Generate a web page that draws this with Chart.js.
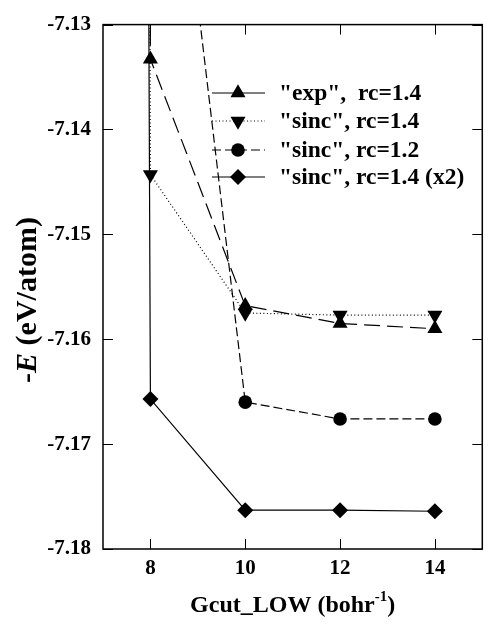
<!DOCTYPE html>
<html>
<head>
<meta charset="utf-8">
<script src="https://cdn.jsdelivr.net/npm/chart.js@4/dist/chart.umd.min.js"></script>
<style>
  html, body { margin: 0; padding: 0; background: #fff; }
  #wrap { width: 491px; height: 630px; }
</style>
</head>
<body>
<div id="wrap"><canvas id="energyChart" width="491" height="630"></canvas></div>
<script>
// ── Data ──────────────────────────────────────────────────────
const xTicks = [8, 10, 12, 14];
const yTicks = [-7.18, -7.17, -7.16, -7.15, -7.14, -7.13];

const gcutLow    = [6, 8, 10, 12, 14];            // first point sits far above the frame
const expRc14    = [-4.0, -7.1333, -7.1568, -7.1585, -7.1590];
const sincRc14   = [-4.5, -7.1443, -7.1575, -7.1577, -7.1577];
const sincRc12   = [-6.5, -7.0900, -7.1660, -7.1676, -7.1676];
const sincRc14x2 = [-5.0, -7.1657, -7.1763, -7.1763, -7.1764];

const seriesLabels = ['"exp",  rc=1.4', '"sinc", rc=1.4', '"sinc", rc=1.2', '"sinc", rc=1.4 (x2)'];

const SERIF = '"Liberation Serif", "Times New Roman", serif';

function toPoints(ys) {
    return gcutLow.map((x, i) => ({ x, y: ys[i] }));
}

// hide the marker of the off-frame first point
function radii(r) {
    return gcutLow.map((_, i) => (i === 0 ? 0 : r));
}

// ── Marker helper (legend) ────────────────────────────────────
function drawMarker(ctx, style, x, y, r, rot) {
    ctx.save();
    ctx.fillStyle = '#000';
    ctx.translate(x, y);
    if (rot) ctx.rotate(rot * Math.PI / 180);
    ctx.beginPath();
    if (style === 'circle') {
        ctx.arc(0, 0, r, 0, Math.PI * 2);
    } else if (style === 'triangle') {
        for (let k = 0; k < 3; k++) {
            const a = k * 2 * Math.PI / 3;
            const px = Math.sin(a) * r, py = -Math.cos(a) * r;
            if (k === 0) ctx.moveTo(px, py); else ctx.lineTo(px, py);
        }
    } else if (style === 'rectRot') {
        ctx.moveTo(-r, 0); ctx.lineTo(0, -r); ctx.lineTo(r, 0); ctx.lineTo(0, r);
    }
    ctx.closePath();
    ctx.fill();
    ctx.restore();
}

// ── Frame, inner ticks, axis titles and key ───────────────────
const framePlugin = {
    id: 'frame',
    afterDatasetsDraw(chart) {
        const { ctx, chartArea: a, scales } = chart;
        ctx.save();
        ctx.strokeStyle = '#000';
        ctx.lineWidth = 1.5;
        ctx.setLineDash([]);
        ctx.strokeRect(a.left, a.top, a.right - a.left, a.bottom - a.top);

        ctx.lineWidth = 1;
        const tl = 10;
        ctx.beginPath();
        xTicks.forEach(v => {
            const px = Math.round(scales.x.getPixelForValue(v)) + 0.5;
            ctx.moveTo(px, a.bottom); ctx.lineTo(px, a.bottom - tl);
            ctx.moveTo(px, a.top);    ctx.lineTo(px, a.top + tl);
        });
        yTicks.forEach(v => {
            const py = Math.round(scales.y.getPixelForValue(v)) + 0.5;
            ctx.moveTo(a.left, py);  ctx.lineTo(a.left + tl, py);
            ctx.moveTo(a.right, py); ctx.lineTo(a.right - tl, py);
        });
        ctx.stroke();

        // key
        const rowY = [93, 121, 150, 177];
        chart.data.datasets.forEach((ds, i) => {
            const y = rowY[i];
            ctx.beginPath();
            ctx.lineWidth = 1.2;
            ctx.setLineDash(ds.legendDash);
            ctx.moveTo(212, y); ctx.lineTo(265, y);
            ctx.stroke();
            ctx.setLineDash([]);
            drawMarker(ctx, ds.pointStyle, 238, y, ds.legendRadius, ds.rotation || 0);
            ctx.fillStyle = '#000';
            ctx.font = 'bold 23.5px ' + SERIF;
            ctx.textAlign = 'left';
            ctx.textBaseline = 'middle';
            ctx.fillText(ds.label, 279, y + 1);
        });

        // x title with superscript
        const cx = (a.left + a.right) / 2;
        const ty = 606;
        const big = 'bold 24px ' + SERIF, small = 'bold 15px ' + SERIF;
        const p1 = 'Gcut_LOW (bohr', p2 = '-1', p3 = ')';
        ctx.font = big;  const w1 = ctx.measureText(p1).width, w3 = ctx.measureText(p3).width;
        ctx.font = small; const w2 = ctx.measureText(p2).width;
        let x0 = cx - (w1 + w2 + w3) / 2;
        ctx.textAlign = 'left';
        ctx.textBaseline = 'middle';
        ctx.font = big;   ctx.fillText(p1, x0, ty);
        ctx.font = small; ctx.fillText(p2, x0 + w1, ty - 9);
        ctx.font = big;   ctx.fillText(p3, x0 + w1 + w2, ty);

        // y title, rotated, italic E
        ctx.translate(28, 300);
        ctx.rotate(-Math.PI / 2);
        const parts = [
            ['-', 'bold 30px ' + SERIF],
            ['E', 'italic bold 30px ' + SERIF],
            [' (eV/atom)', 'bold 30px ' + SERIF]
        ];
        let total = 0;
        parts.forEach(p => { ctx.font = p[1]; total += ctx.measureText(p[0]).width; });
        let xx = -total / 2;
        parts.forEach(p => {
            ctx.font = p[1];
            ctx.fillText(p[0], xx, 0);
            xx += ctx.measureText(p[0]).width;
        });
        ctx.restore();
    }
};

// ── Chart ─────────────────────────────────────────────────────
const lineBase = {
    borderColor: '#000',
    backgroundColor: '#000',
    pointBorderWidth: 0,
    borderWidth: 1.2,
    tension: 0,
    fill: false
};

new Chart(document.getElementById('energyChart').getContext('2d'), {
    type: 'line',
    data: {
        datasets: [
            { ...lineBase, label: seriesLabels[0], data: toPoints(expRc14),
              borderDash: [16, 7], legendDash: [],
              pointStyle: 'triangle', pointRadius: radii(8.7), legendRadius: 8.7 },
            { ...lineBase, label: seriesLabels[1], data: toPoints(sincRc14),
              borderDash: [1, 2.5], legendDash: [1, 2.5],
              pointStyle: 'triangle', rotation: 180, pointRadius: radii(8.7), legendRadius: 8.7 },
            { ...lineBase, label: seriesLabels[2], data: toPoints(sincRc12),
              borderDash: [9, 4], legendDash: [9, 4],
              pointStyle: 'circle', pointRadius: radii(6.8), legendRadius: 6.8 },
            { ...lineBase, label: seriesLabels[3], data: toPoints(sincRc14x2),
              borderDash: [], legendDash: [],
              pointStyle: 'rectRot', pointRadius: radii(8), legendRadius: 8 }
        ]
    },
    options: {
        responsive: false,
        animation: false,
        layout: { padding: { left: 0, right: 2, top: 13, bottom: 0 } },
        plugins: { legend: { display: false }, tooltip: { enabled: false } },
        scales: {
            x: {
                type: 'linear',
                min: 7, max: 15,
                afterBuildTicks: s => { s.ticks = xTicks.map(v => ({ value: v })); },
                afterFit: s => { s.height = 81; },
                grid: { display: false, drawTicks: false },
                border: { display: false },
                ticks: {
                    padding: 7,
                    color: '#000',
                    font: { family: SERIF, size: 21, weight: 'bold' },
                    maxRotation: 0,
                    callback: v => String(v)
                }
            },
            y: {
                type: 'linear',
                min: -7.18, max: -7.13,
                afterBuildTicks: s => { s.ticks = yTicks.map(v => ({ value: v })); },
                afterFit: s => { s.width = 103; },
                grid: { display: false, drawTicks: false },
                border: { display: false },
                ticks: {
                    padding: 12,
                    color: '#000',
                    font: { family: SERIF, size: 21, weight: 'bold' },
                    callback: v => v.toFixed(2)
                }
            }
        }
    },
    plugins: [framePlugin]
});
</script>
</body>
</html>
